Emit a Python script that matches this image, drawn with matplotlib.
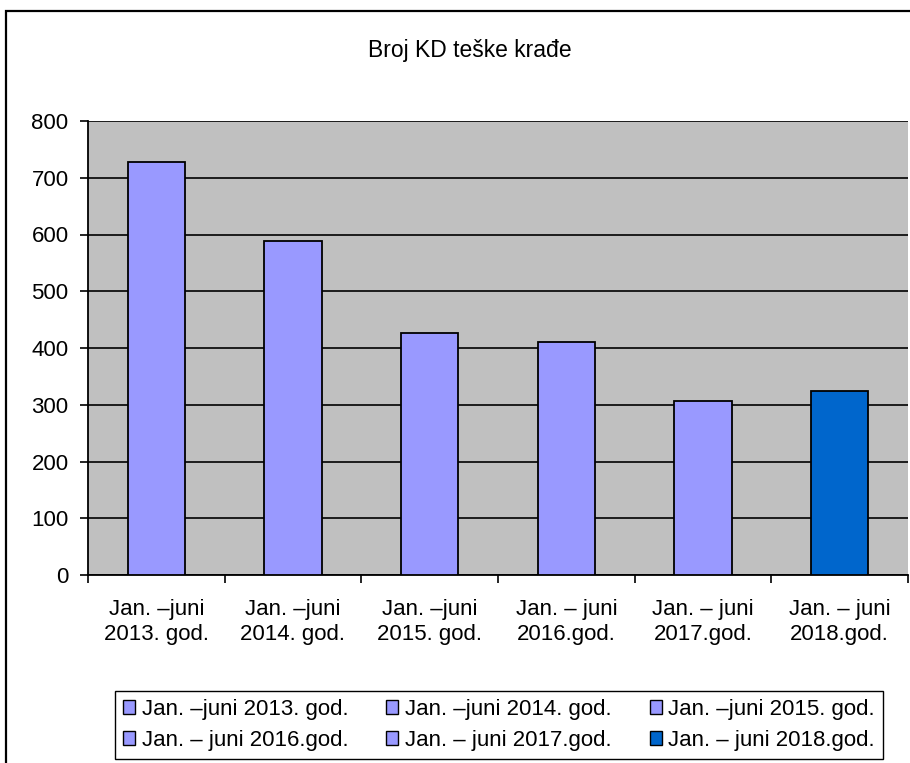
import matplotlib.pyplot as plt
from matplotlib.patches import Rectangle, Patch
import numpy as np

plt.rcParams['font.family'] = ['Liberation Sans', 'DejaVu Sans']

# donnees
kategorije = ["Jan. –juni\n2013. god.", "Jan. –juni\n2014. god.", "Jan. –juni\n2015. god.",
              "Jan. – juni\n2016.god.", "Jan. – juni\n2017.god.", "Jan. – juni\n2018.god."]
legenda = ["Jan. –juni 2013. god.", "Jan. –juni 2014. god.", "Jan. –juni 2015. god.",
           "Jan. – juni 2016.god.", "Jan. – juni 2017.god.", "Jan. – juni 2018.god."]
vrijednosti = [727, 588, 426, 410, 306, 325]
boje = ["#9999FF", "#9999FF", "#9999FF", "#9999FF", "#9999FF", "#0066CC"]

fig = plt.figure(figsize=(9.1, 7.63), dpi=100)

# okvir
fig.patches.append(Rectangle((6/910, -0.2), 1.2, 1 - 11/763 + 0.2, transform=fig.transFigure,
                             fill=False, edgecolor="black", linewidth=1.6, clip_on=False))

ax = fig.add_axes([88/910, 1 - 575/763, 820/910, 454/763])
ax.set_facecolor("#C0C0C0")

x = np.arange(len(vrijednosti))
ax.bar(x, vrijednosti, width=0.42, color=boje, edgecolor="black", linewidth=1.3, zorder=3)

ax.set_xlim(-0.5, len(vrijednosti) - 0.5)
ax.set_ylim(0, 800)
ax.set_yticks(range(0, 801, 100))
ax.yaxis.grid(True, color="black", linewidth=1.2, zorder=1)
ax.set_axisbelow(True)

ax.set_xticks(x)
ax.set_xticklabels(kategorije, fontsize=16, linespacing=1.3)
ax.set_xticks(np.arange(-0.5, len(vrijednosti)), minor=True)
ax.tick_params(axis="x", which="major", length=0, pad=17)
ax.tick_params(axis="x", which="minor", length=6, width=1.2, direction="out")
ax.tick_params(axis="y", length=6, width=1.2, labelsize=16, pad=8)

for s in ["top", "right"]:
    ax.spines[s].set_visible(False)
ax.spines["left"].set_linewidth(1.3)
ax.spines["bottom"].set_linewidth(1.3)

fig.text(470/910, 1 - 50/763, "Broj KD teške krađe", ha="center", va="center", fontsize=16.5)

# legenda red po red
rucke = [Patch(facecolor=b, edgecolor="black", linewidth=1) for b in boje]
red = [0, 3, 1, 4, 2, 5]
fig.legend([rucke[i] for i in red], [legenda[i] for i in red], ncol=3, loc="center",
           bbox_to_anchor=(499/910, 1 - 725/763),
           fontsize=16, frameon=True, fancybox=False, edgecolor="black", framealpha=1,
           handlelength=0.55, handleheight=0.55, handletextpad=0.3, columnspacing=1.7,
           borderpad=0.35, labelspacing=0.45)

fig.savefig("out.png", dpi=100)
